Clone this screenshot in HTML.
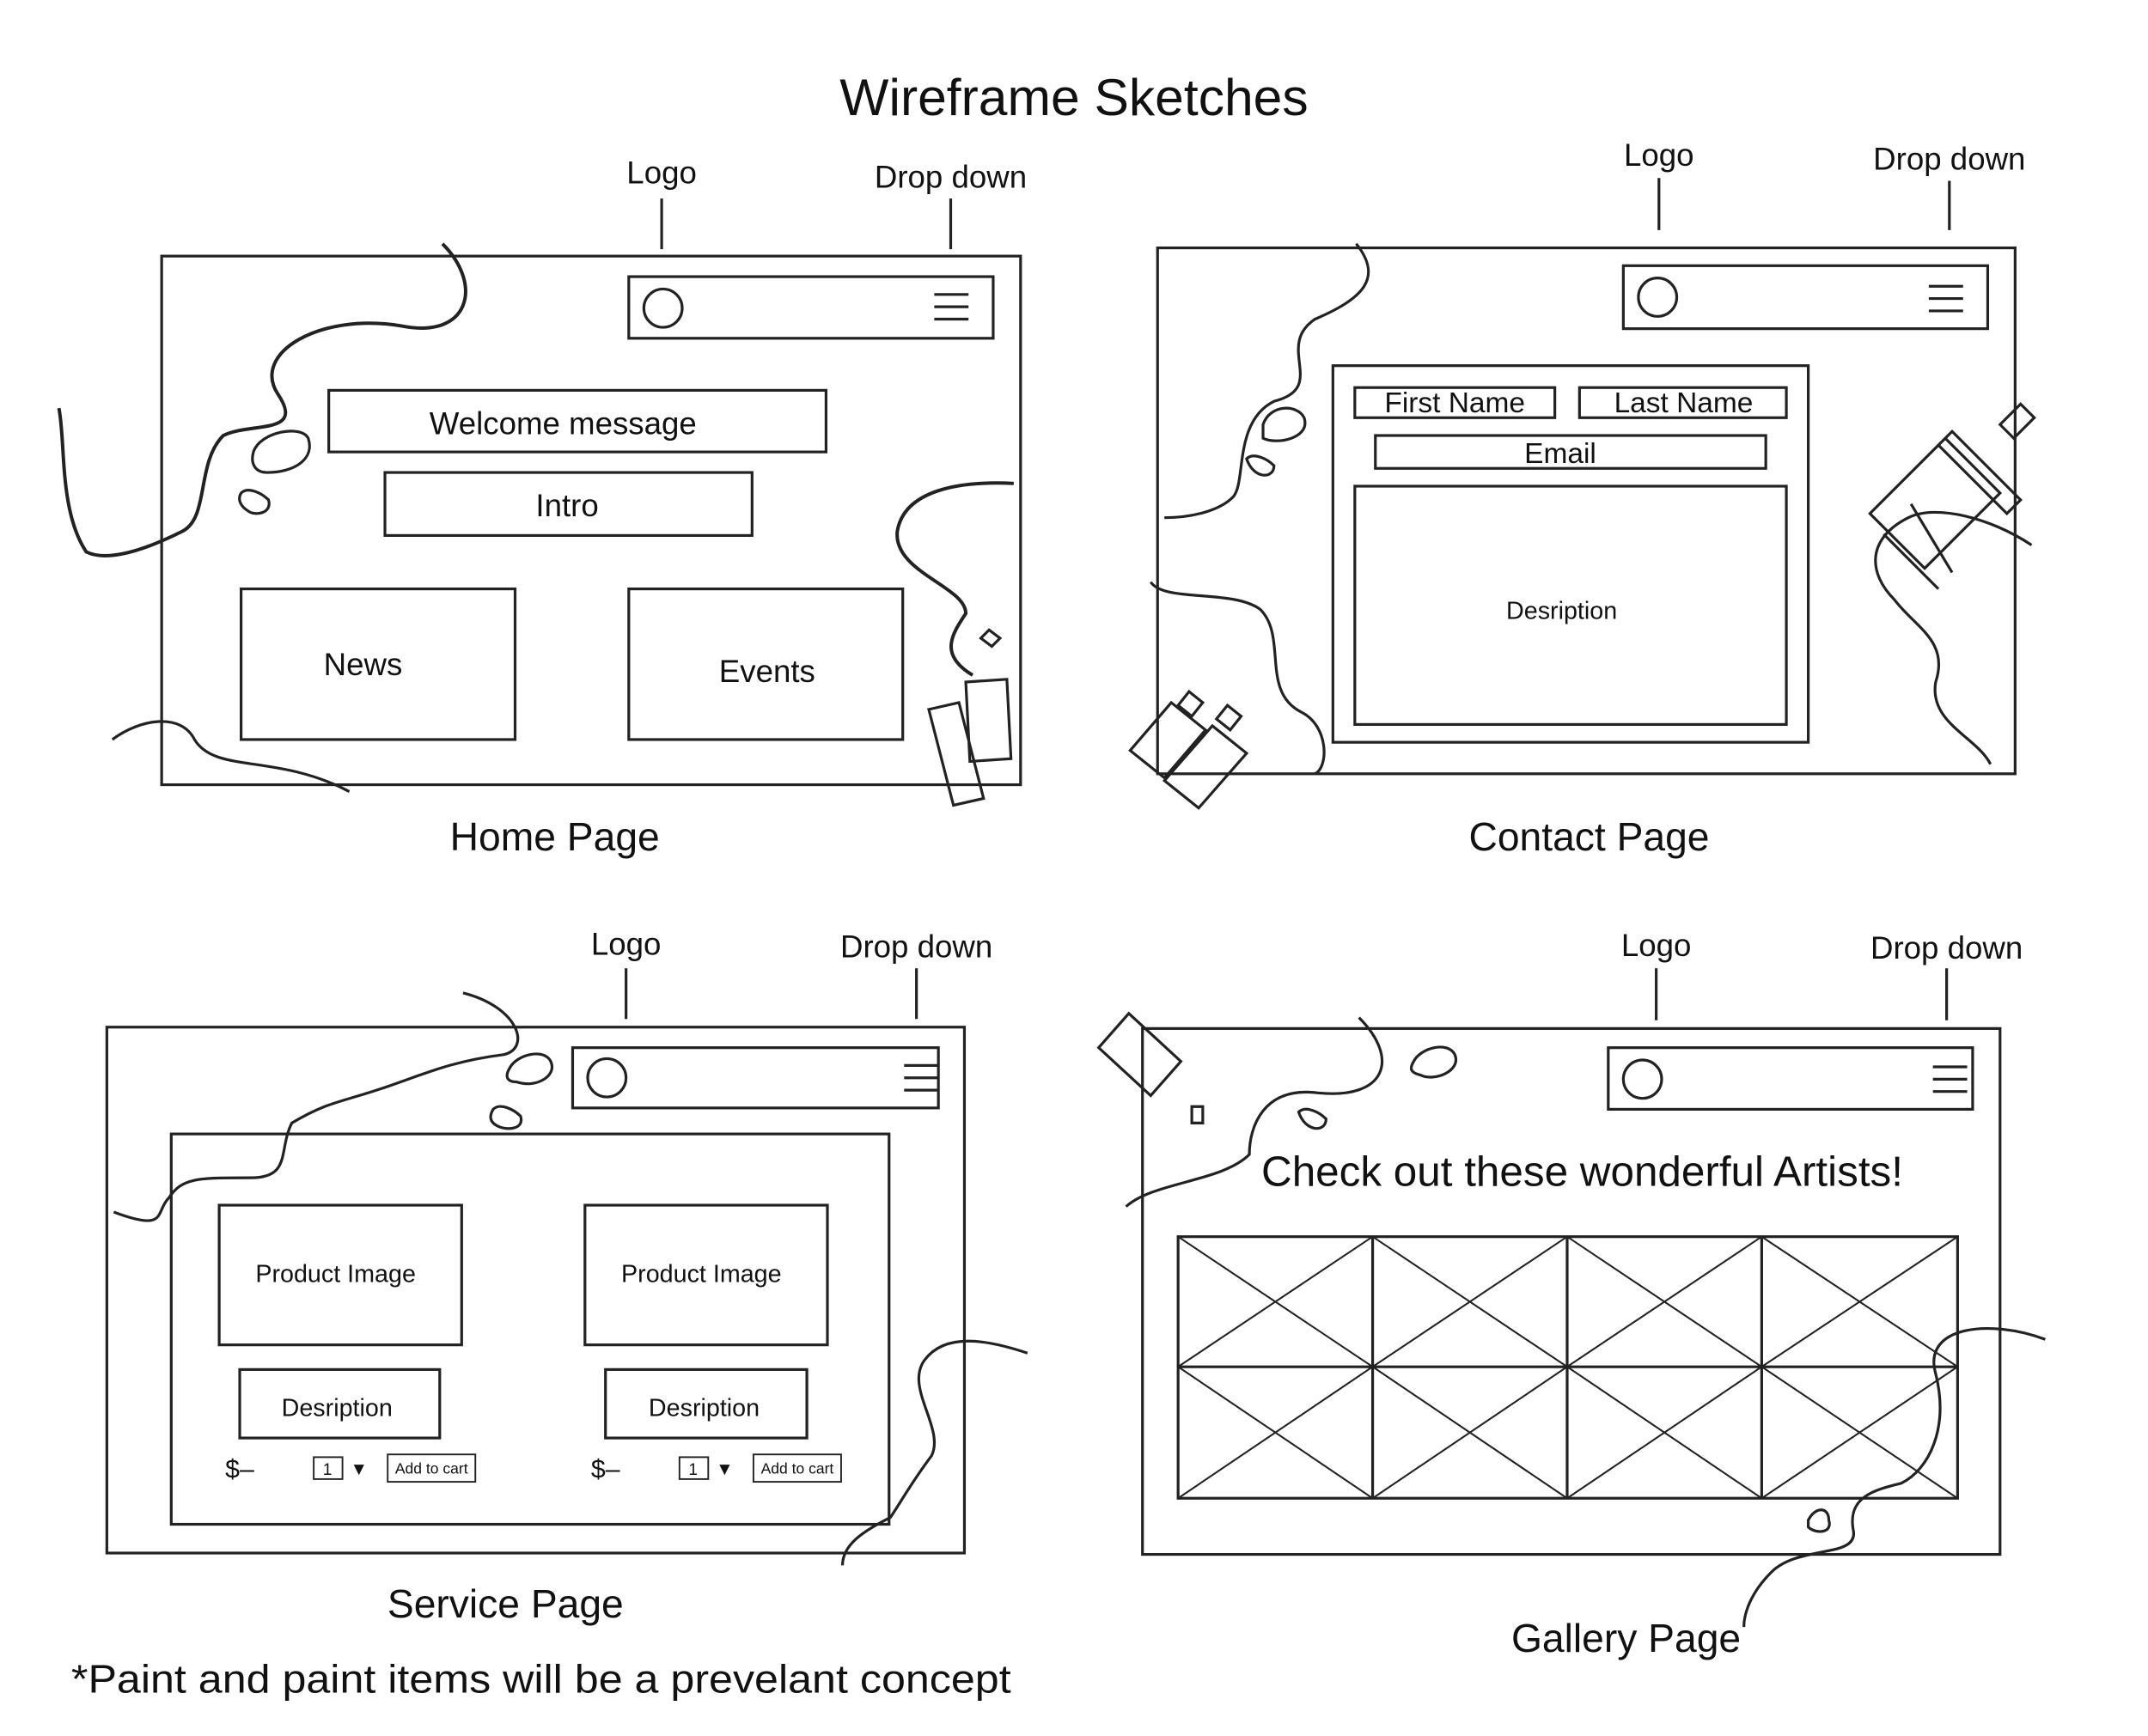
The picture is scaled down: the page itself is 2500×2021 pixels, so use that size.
<!DOCTYPE html>
<html><head><meta charset="utf-8"><style>
html,body{margin:0;padding:0;background:#fff;}
svg{display:block;}
text{font-family:"Liberation Sans",sans-serif;fill:#111;}
</style></head><body>
<svg width="2500" height="2021" viewBox="0 0 1568 1267.6" preserveAspectRatio="none" xmlns="http://www.w3.org/2000/svg">
<g fill="none" stroke="#222" stroke-width="2">
<!-- HOME -->
<rect x="118" y="187" width="627" height="386"/>
<rect x="459" y="202" width="266" height="45"/>
<circle cx="484" cy="225" r="14"/>
<path d="M682 215h25M682 224h25M682 233h25"/>
<path d="M483 145v37M694 145v37"/>
<rect x="240" y="285" width="363" height="45"/>
<rect x="281" y="345" width="268" height="46"/>
<rect x="176" y="430" width="200" height="110"/>
<rect x="459" y="430" width="200" height="110"/>
<path d="M323 178c30 30 20 70-30 60c-60-10-110 20-90 50c20 30-20 20-40 30c-20 20-10 60-30 70c-40 20-60 20-70 15c-20-30-15-80-20-105" stroke-width="2.5"/>
<path d="M82 540c20-15 50-20 60 0c15 25 60 10 113 38" stroke-width="2"/>
<path d="M740 353c-40-2-80 5-85 35c-3 30 50 40 50 60c-10 15-20 30 5 45" stroke-width="2.5"/>
<path d="M185 330c5-15 35-20 40-10c5 15-10 25-30 25c-10 0-12-8-10-15zM176 360c5-5 15 0 20 5c3 10-10 12-15 8c-5-3-8-8-5-13z"/>
<path d="M678 518l22-5 18 70-22 5zM705 498l30-2 3 58-30 2zM716 466l6-6 8 6-6 6z"/>
<!-- CONTACT -->
<rect x="845" y="181" width="626" height="384"/>
<rect x="1185" y="194" width="266" height="46"/>
<circle cx="1210" cy="217" r="14"/>
<path d="M1408 209h25M1408 218h25M1408 227h25"/>
<path d="M1211 130v38M1423 132v36"/>
<rect x="973" y="267" width="347" height="275"/>
<rect x="989" y="283" width="146" height="22"/>
<rect x="1153" y="283" width="151" height="22"/>
<rect x="1004" y="318" width="285" height="24"/>
<rect x="989" y="355" width="315" height="174"/>
<path d="M990 178c20 25 5 40-30 55c-30 20 10 50-30 60c-30 15-20 60-30 70c-10 10-30 15-50 15"/>
<path d="M840 425c10 15 60 5 80 20c20 20 0 60 30 75c20 10 20 40 10 45"/>
<path d="M922 310c5-15 25-15 30-5c5 15-20 20-30 15zM910 335c5-5 15 0 20 5c0 10-15 10-20-5z"/>
<path d="M1483 398c-30-20-70-30-90-20c-30 15-30 40-10 60c15 20 40 30 30 60c-5 30 30 40 40 60"/>
<path d="M1365 375l55-55 40 40-55 55zM1415 325l10-10 50 50-10 10zM1460 310l15-15 10 10-15 15zM1375 390l40 40M1395 368l30 50"/>
<path d="M825 548l30-35 25 20-30 35zM850 570l35-40 25 20-35 40zM860 515l8-10 10 8-8 10zM888 525l8-10 10 8-8 10z"/>
<!-- SERVICE -->
<rect x="78" y="750" width="626" height="384"/>
<rect x="418" y="765" width="267" height="44"/>
<circle cx="443" cy="787" r="14"/>
<path d="M660 778h25M660 787h25M660 796h25"/>
<path d="M457 707v37M669 707v37"/>
<rect x="125" y="828" width="524" height="285"/>
<rect x="160" y="880" width="177" height="102"/>
<rect x="427" y="880" width="177" height="102"/>
<rect x="175" y="1000" width="146" height="50"/>
<rect x="442" y="1000" width="147" height="50"/>
<g stroke-width="1.2">
<rect x="229" y="1064" width="21" height="16"/><rect x="283" y="1062" width="64" height="20"/>
<rect x="496" y="1064" width="21" height="16"/><rect x="550" y="1062" width="64" height="20"/>
</g>
<path d="M338 725c40 10 50 40 30 45c-40 5-60 15-90 25c-30 10-40 10-65 25c-10 20 0 40-30 40c-40 0-50 0-60 15c-10 10 0 25-40 10"/>
<path d="M372 780c5-10 25-15 30-5c5 10-10 20-25 15c-8 0-8-5-5-10zM360 810c5-5 15 0 20 5c3 10-10 10-15 8c-8-3-8-8-5-13z"/>
<path d="M750 988c-30-10-60-15-75 5c-15 20 15 50 5 70c-15 20-20 30-30 45c-20 10-35 20-35 35"/>
<!-- GALLERY -->
<rect x="834" y="751" width="626" height="384"/>
<rect x="1174" y="765" width="266" height="45"/>
<circle cx="1199" cy="788" r="14"/>
<path d="M1411 779h25M1411 788h25M1411 797h25"/>
<path d="M1209 707v38M1421 707v38"/>
<rect x="860" y="903" width="569" height="191"/>
<path d="M1002 903v191M1144 903v191M1286 903v191M860 998h569"/>
<path d="M860 903L1002 998L860 1094M1002 903L860 998L1002 1094M1002 903L1144 998L1002 1094M1144 903L1002 998L1144 1094M1144 903L1286 998L1144 1094M1286 903L1144 998L1286 1094M1286 903L1429 998L1286 1094M1429 903L1286 998L1429 1094" stroke-width="1.3"/>
<path d="M992 743c30 30 20 60-30 55c-40-5-50 25-50 45c-20 20-70 20-90 38"/>
<path d="M1032 775c5-10 25-15 30-5c5 12-15 20-25 15c-8-2-8-5-5-10zM948 812c5-5 15 0 20 5c0 10-15 10-20-5z"/>
<path d="M802 765l22-25 38 35-22 25zM870 808h8v12h-8z"/>
<path d="M1493 978c-40-15-90-10-80 25c10 40-5 70-25 80c-20 5-40 10-35 35c3 20-40 10-60 30c-15 15-20 30-20 40"/>
<path d="M1320 1110c5-10 15-10 15 0c3 10-10 10-15 5z"/>
</g>
<g text-anchor="middle">
<text x="784" y="84" font-size="38">Wireframe Sketches</text>
<text x="483" y="134" font-size="23">Logo</text>
<text x="694" y="137" font-size="23">Drop down</text>
<text x="411" y="317" font-size="23">Welcome message</text>
<text x="414" y="377" font-size="23">Intro</text>
<text x="265" y="493" font-size="23">News</text>
<text x="560" y="498" font-size="23">Events</text>
<text x="405" y="621" font-size="29">Home Page</text>
<text x="1211" y="121" font-size="23">Logo</text>
<text x="1423" y="124" font-size="23">Drop down</text>
<text x="1062" y="301" font-size="21">First Name</text>
<text x="1229" y="301" font-size="21">Last Name</text>
<text x="1139" y="338" font-size="21">Email</text>
<text x="1140" y="452" font-size="18">Desription</text>
<text x="1160" y="621" font-size="29">Contact Page</text>
<text x="457" y="697" font-size="23">Logo</text>
<text x="669" y="699" font-size="23">Drop down</text>
<text x="245" y="936" font-size="18">Product Image</text>
<text x="512" y="936" font-size="18">Product Image</text>
<text x="246" y="1034" font-size="18">Desription</text>
<text x="514" y="1034" font-size="18">Desription</text>
<text x="175" y="1079" font-size="19">$–</text>
<text x="442" y="1079" font-size="19">$–</text>
<text x="239" y="1077" font-size="12">1</text><text x="262" y="1077" font-size="13">▼</text>
<text x="506" y="1077" font-size="12">1</text><text x="529" y="1077" font-size="13">▼</text>
<text x="315" y="1076" font-size="11">Add to cart</text>
<text x="582" y="1076" font-size="11">Add to cart</text>
<text x="369" y="1181" font-size="29">Service Page</text>
<text x="1209" y="698" font-size="23">Logo</text>
<text x="1421" y="700" font-size="23">Drop down</text>
<text x="1155" y="866" font-size="31">Check out these wonderful Artists!</text>
<text x="1187" y="1206" font-size="29">Gallery Page</text>
</g>
<text x="52" y="1236" font-size="29" textLength="686" lengthAdjust="spacingAndGlyphs">*Paint and paint items will be a prevelant concept</text>
</svg>
</body></html>
